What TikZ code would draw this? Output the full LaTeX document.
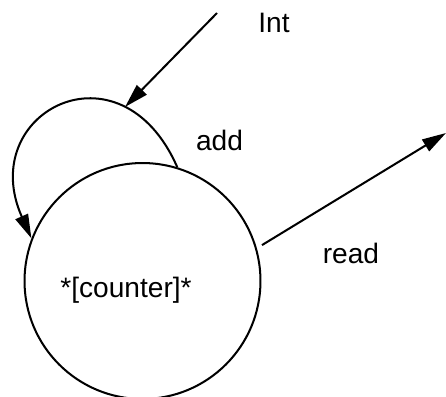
\documentclass[tikz,border=0pt]{standalone}
\usepackage{fontspec}
\setmainfont{Liberation Sans}
\usetikzlibrary{arrows.meta}
\tikzset{>={Triangle[length=0.48cm,width=0.27cm]}}
\tikzset{
  state/.style = {draw,circle,minimum size=4.72cm,inner sep=0pt},
  lbl/.style = {anchor=base,font=\fontsize{16}{19}\selectfont}
}

\begin{document}
\begin{tikzpicture}[x=0.02cm,y=-0.02cm,line width=1.15pt]
  \useasboundingbox (0,0) rectangle (446,396);
  \node[state] (counter) at (142.5,281) {};
  \node[lbl] (countername) at (126,297) {*[counter]*};
  % add loops back onto the state
  \draw[->] (counter.73) .. controls +(-57,-130) and +(-56,-126) .. (counter.159)
    coordinate[pos=0.24] (addtop);
  \coordinate (intsrc) at (217,13);
  \draw[->] (intsrc) -- (addtop);
  \coordinate (readsink) at (446,133);
  \draw[->,shorten <=0.12cm] (counter.16) -- (readsink);
  \node[lbl] (intlbl) at (274,32) {Int};
  \node[lbl] (addlbl) at (219.5,150) {add};
  \node[lbl] (readlbl) at (351,263) {read};
\end{tikzpicture}
\end{document}
